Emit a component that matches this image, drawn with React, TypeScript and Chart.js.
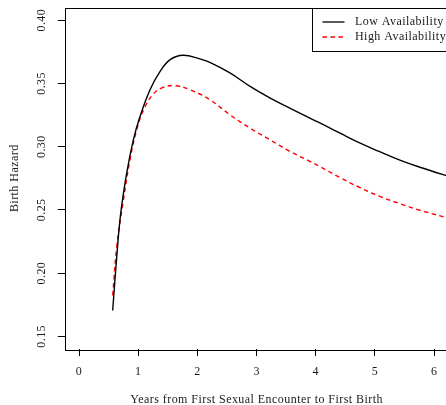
import React, { useEffect, useRef } from "react";
import { Chart, registerables } from "chart.js";

Chart.register(...registerables);

const lowX = [0.569, 0.637, 0.704, 0.805, 0.918, 1.03, 1.2, 1.37, 1.54, 1.76, 2.04, 2.21, 2.55, 2.89, 3.23, 3.56, 3.9, 4.21, 4.41, 4.75, 5.08, 5.42, 5.76, 6.18, 6.3];
const lowY = [0.1704, 0.2127, 0.2471, 0.2789, 0.3053, 0.3238, 0.345, 0.3595, 0.3688, 0.3722, 0.3694, 0.3667, 0.3583, 0.3476, 0.3384, 0.3305, 0.3225, 0.3154, 0.3106, 0.3027, 0.296, 0.2894, 0.2837, 0.2775, 0.276];
const highX = [0.569, 0.637, 0.75, 0.86, 0.975, 1.09, 1.26, 1.42, 1.62, 1.875, 2.21, 2.55, 2.89, 3.23, 3.56, 3.9, 4.07, 4.41, 4.75, 5.08, 5.42, 5.76, 6.18, 6.3];
const highY = [0.1823, 0.2206, 0.2577, 0.2894, 0.3133, 0.3291, 0.3418, 0.3468, 0.3482, 0.345, 0.3371, 0.3252, 0.3146, 0.3053, 0.2963, 0.2883, 0.2842, 0.2755, 0.2675, 0.2607, 0.2549, 0.2497, 0.2442, 0.2428];

const xTicks = [0, 1, 2, 3, 4, 5, 6];
const yTicks = [0.15, 0.2, 0.25, 0.3, 0.35, 0.4];
const yTickLabels = ["0.15", "0.20", "0.25", "0.30", "0.35", "0.40"];
const seriesNames = ["Low Availability", "High Availability"];
const xTitle = "Years from First Sexual Encounter to First Birth";
const yTitle = "Birth Hazard";

const FONT = "12px 'Liberation Serif', serif";

const rStyle = {
  id: "rStyle",
  afterDraw(chart: any) {
    const { ctx, chartArea: a, scales } = chart;
    const xs = scales.x;
    const ys = scales.y;
    ctx.save();
    ctx.strokeStyle = "#000";
    ctx.lineWidth = 1;
    ctx.strokeRect(Math.round(a.left) + 0.5, Math.round(a.top) + 0.5, Math.round(a.right - a.left), Math.round(a.bottom - a.top));
    ctx.fillStyle = "#1a1a1a";
    ctx.font = FONT;
    (ctx as any).letterSpacing = "0.45px";
    ctx.textAlign = "center";
    ctx.textBaseline = "middle";
    xTicks.forEach((v) => {
      ctx.fillText(String(v), xs.getPixelForValue(v), a.bottom + 23);
    });
    ctx.fillText(xTitle, (a.left + a.right) / 2, a.bottom + 51);
    yTicks.forEach((v, i) => {
      ctx.save();
      ctx.translate(a.left - 22.5, ys.getPixelForValue(v));
      ctx.rotate(-Math.PI / 2);
      ctx.fillText(yTickLabels[i], 0, 0);
      ctx.restore();
    });
    ctx.save();
    ctx.translate(15, (a.top + a.bottom) / 2);
    ctx.rotate(-Math.PI / 2);
    ctx.fillText(yTitle, 0, 0);
    ctx.restore();

    // legend
    const lx = 312.5;
    const ly = Math.round(a.top) + 0.5;
    ctx.fillStyle = "#fff";
    ctx.fillRect(lx, ly, a.right - lx, 43);
    ctx.strokeStyle = "#000";
    ctx.lineWidth = 1;
    ctx.strokeRect(lx, ly, Math.round(a.right - lx), 43);
    const rows = [22, 37];
    ctx.lineWidth = 1.3;
    ctx.strokeStyle = "#000";
    ctx.beginPath();
    ctx.moveTo(322.5, rows[0]);
    ctx.lineTo(344.5, rows[0]);
    ctx.stroke();
    ctx.strokeStyle = "#ff0000";
    ctx.setLineDash([4.5, 3.5]);
    ctx.beginPath();
    ctx.moveTo(322.5, rows[1]);
    ctx.lineTo(344.5, rows[1]);
    ctx.stroke();
    ctx.setLineDash([]);
    ctx.fillStyle = "#1a1a1a";
    ctx.textAlign = "left";
    ctx.fillText(seriesNames[0], 355, rows[0]);
    ctx.fillText(seriesNames[1], 355, rows[1]);
    ctx.restore();
  },
};

export default function App() {
  const ref = useRef<HTMLCanvasElement>(null);
  useEffect(() => {
    document.body.style.margin = "0";
    const chart = new Chart(ref.current!, {
      type: "scatter",
      data: {
        datasets: [
          {
            label: seriesNames[0],
            data: lowX.map((x, i) => ({ x, y: lowY[i] })),
            showLine: true,
            borderColor: "#000",
            borderWidth: 1.4,
            pointRadius: 0,
            tension: 0.4,
          },
          {
            label: seriesNames[1],
            data: highX.map((x, i) => ({ x, y: highY[i] })),
            showLine: true,
            borderColor: "#ff0000",
            borderWidth: 1.4,
            borderDash: [4.5, 3.5],
            pointRadius: 0,
            tension: 0.4,
          },
        ],
      },
      options: {
        responsive: false,
        animation: false,
        devicePixelRatio: 1,
        layout: { padding: { left: 0, right: 460 - 448.4, top: 7.5, bottom: 0 } },
        plugins: { legend: { display: false }, tooltip: { enabled: false } },
        scales: {
          x: {
            type: "linear",
            min: -0.24,
            max: 6.24,
            afterFit: (s: any) => { s.height = 56; },
            afterBuildTicks: (s: any) => { s.ticks = xTicks.map((v) => ({ value: v })); },
            ticks: { display: false },
            grid: { drawOnChartArea: false, drawTicks: true, tickLength: 7, color: "#000", lineWidth: 1 },
            border: { display: false },
          },
          y: {
            type: "linear",
            min: 0.14,
            max: 0.41,
            afterFit: (s: any) => { s.width = 64.8; },
            afterBuildTicks: (s: any) => { s.ticks = yTicks.map((v) => ({ value: v })); },
            ticks: { display: false },
            grid: { drawOnChartArea: false, drawTicks: true, tickLength: 7, color: "#000", lineWidth: 1 },
            border: { display: false },
          },
        },
      },
      plugins: [rStyle],
    });
    return () => chart.destroy();
  }, []);
  return (
    <div style={{ position: "absolute", left: 0, top: 0, width: 446, height: 405, overflow: "hidden", background: "#fff" }}>
      <canvas ref={ref} width={460} height={405} />
    </div>
  );
}
